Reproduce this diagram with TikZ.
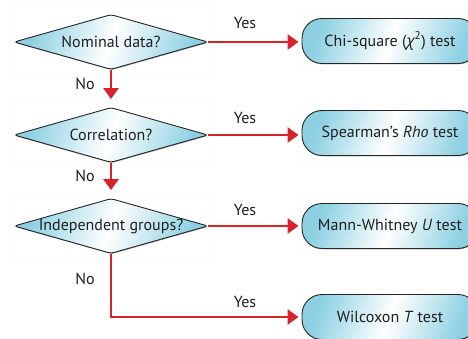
\documentclass[tikz,border=0pt]{standalone}
\usepackage{fontspec}
\setmainfont{PT Sans}
\newfontfamily\grk{Open Sans}
\usetikzlibrary{shapes.geometric,arrows.meta,shadows,calc}
\definecolor{arrred}{HTML}{D8232A}
\definecolor{shblue}{HTML}{8CD0E2}
\definecolor{frame}{HTML}{FDFBF3}
\tikzset{
  x=1pt, y=-1pt,
  fillshade/.style={left color=shblue, right color=shblue, middle color=white, shading angle=70},
  dia/.style={shape=diamond, minimum width=194pt, minimum height=55pt, inner sep=0pt,
     draw=black!85, line width=0.9pt, fillshade, rounded corners=3pt,
     drop shadow={shadow xshift=0.6pt, shadow yshift=-0.8pt, fill=black!55, opacity=0.6}},
  res/.style={shape=rectangle, minimum width=176pt, minimum height=45pt, inner sep=0pt,
     draw=black!85, line width=0.9pt, fillshade, rounded corners=20pt,
     drop shadow={shadow xshift=0.6pt, shadow yshift=-0.8pt, fill=black!55, opacity=0.6}},
  qtext/.style={font=\fontsize{16}{18}\selectfont, text=black!88, inner sep=0pt},
  lab/.style={font=\fontsize{16}{18}\selectfont, text=black!88, inner sep=0pt},
  conn/.style={draw=arrred, line width=2.6pt, -{Triangle[length=11pt,width=15pt]}},
  framebox/.style={draw=frame, line width=0.6pt}
}
\begin{document}
\begin{tikzpicture}
\useasboundingbox (0,0) rectangle (468,339);
\fill[white] (0,0) rectangle (468,339);
\begin{scope}
\clip (0,0) rectangle (468,339);
% faint frames
\draw[framebox] (9,6) rectangle (213,73);
\draw[framebox] (9,100) rectangle (213,166);
\draw[framebox] (9,192) rectangle (213,259);
\draw[framebox] (297,12) rectangle (470,70);
\draw[framebox] (297,104) rectangle (470,162);
\draw[framebox] (297,197) rectangle (470,255);
\draw[framebox] (297,289) rectangle (470,345);
% decisions
\node[dia] (d1) at (111,42) {};
\node[qtext] (t1) at (d1) {Nominal data?};
\node[dia] (d2) at (111,135) {};
\node[qtext] (t2) at (d2) {Correlation?};
\node[dia] (d3) at (111,226) {};
\node[qtext] (t3) at (d3) {Independent groups?};
% results
\node[res] (b1) at (390,41) {};
\node[qtext] (r1) at (b1) {Chi-square ({\grk\itshape χ}\textsuperscript{2}) test};
\node[res] (b2) at (390,133) {};
\node[qtext] (r2) at (b2) {Spearman’s \textit{Rho} test};
\node[res] (b3) at (390,226) {};
\node[qtext] (r3) at (b3) {Mann-Whitney \textit{U} test};
\node[res] (b4) at (390,317) {};
\node[qtext] (r4) at (b4) {Wilcoxon \textit{T} test};
\end{scope}
% connectors
\draw[conn, shorten >=3pt] (d1.east) -- (b1.west |- d1.east);
\draw[conn, shorten >=3pt] (d2.east) -- (b2.west |- d2.east);
\draw[conn, shorten >=3pt] (d3.east) -- (b3.west |- d3.east);
\draw[conn, shorten >=8pt] (d1.south) -- (d2.north);
\draw[conn, shorten >=8pt] (d2.south) -- (d3.north);
\draw[conn, shorten >=3pt] (d3.south) |- (b4.west);
% labels
\node[lab] (y1) at (245,23) {Yes};
\node[lab] (y2) at (245,118) {Yes};
\node[lab] (y3) at (245,210) {Yes};
\node[lab] (y4) at (245,302) {Yes};
\node[lab] (n1) at (85,84) {No};
\node[lab] (n2) at (85,176) {No};
\node[lab] (n3) at (85,279) {No};
\end{tikzpicture}
\end{document}
